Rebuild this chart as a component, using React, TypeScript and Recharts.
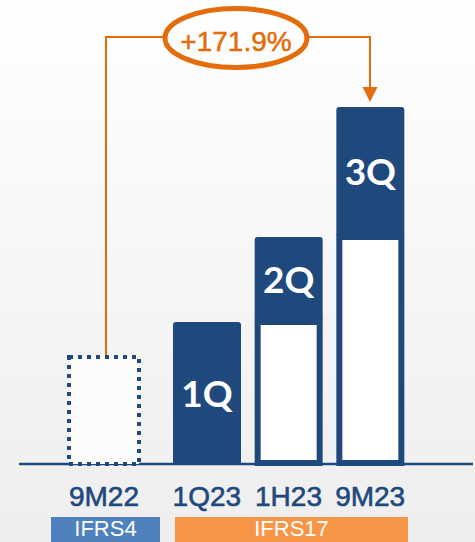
import { BarChart, Bar, XAxis, YAxis, LabelList } from "recharts";

const ifrs4Periods = ["9M22"];
const ifrs4Totals = [110];

const ifrs17Periods = ["1Q23", "1H23", "9M23"];
const priorCumulative = [0, 143, 228];
const quarterAdds = [143, 85, 130];
const quarterNames = ["1Q", "2Q", "3Q"];

const growthLabel = "+171.9%";
const regimeNames = ["IFRS4", "IFRS17"];

const NAVY = "#1f497d";
const ORANGE = "#e46c0a";
const SANS = "'Liberation Sans', Arial, sans-serif";

const ifrs4Data = ifrs4Periods.map((period, i) => ({
  period,
  total: ifrs4Totals[i],
}));

const ifrs17Data = ifrs17Periods.map((period, i) => ({
  period,
  prior: priorCumulative[i],
  quarter: quarterAdds[i],
  name: quarterNames[i],
}));

const maxTotal = Math.max(
  ...ifrs4Totals,
  ...ifrs17Data.map((d) => d.prior + d.quarter)
);

function PeriodTick(props: any) {
  const { x, y, payload } = props;
  return (
    <text
      x={x}
      y={y}
      dy={41}
      textAnchor="middle"
      fill={NAVY}
      stroke={NAVY}
      strokeWidth={0.6}
      fontFamily={SANS}
      fontSize={28}
    >
      {payload.value}
    </text>
  );
}

function DottedBox(props: any) {
  const { x, y, width, height } = props;
  if (!height) return null;
  return (
    <rect
      x={x + 2}
      y={y + 2}
      width={width - 4}
      height={height - 3}
      fill="#fbfbfb"
      stroke={NAVY}
      strokeWidth={4}
      strokeDasharray="4 5"
    />
  );
}

function OutlinedBox(props: any) {
  const { x, y, width, height } = props;
  if (!height) return null;
  return (
    <rect
      x={x + 3}
      y={y}
      width={width - 6}
      height={height - 2}
      fill="#ffffff"
      stroke={NAVY}
      strokeWidth={6}
    />
  );
}

function QuarterLabel(props: any) {
  const { x, y, width, height, value } = props;
  return (
    <text
      x={x + width / 2}
      y={y + height / 2}
      dy={13}
      textAnchor="middle"
      fill="#ffffff"
      fontFamily="Lato, 'Open Sans', sans-serif"
      fontWeight={700}
      fontSize={37}
    >
      {value}
    </text>
  );
}

const axisProps = {
  dataKey: "period",
  height: 77,
  axisLine: false,
  tickLine: false,
  tickSize: 0,
  tickMargin: 0,
  interval: 0 as const,
  tick: <PeriodTick />,
};

export default function App() {
  return (
    <div
      style={{
        position: "absolute",
        left: 0,
        top: 0,
        width: 475,
        height: 542,
        overflow: "hidden",
        background: "linear-gradient(#ffffff 0%, #f7f7f7 45%, #eeeeee 100%)",
      }}
    >
      <svg
        width={475}
        height={542}
        style={{ position: "absolute", left: 0, top: 0 }}
      >
        <line x1={19} x2={473} y1={464} y2={464} stroke={NAVY} strokeWidth={2.5} />

        <rect x={51} y={517} width={109} height={25} fill="#4f81bd" />
        <rect x={175} y={517} width={233} height={25} fill="#f79646" />
        <text x={105.5} y={536} textAnchor="middle" fill="#fff" fontSize={22}
          fontFamily={SANS}>
          {regimeNames[0]}
        </text>
        <text x={291.5} y={536} textAnchor="middle" fill="#fff" fontSize={22}
          fontFamily={SANS}>
          {regimeNames[1]}
        </text>

        <path d="M106 355 V37 H164" fill="none" stroke={ORANGE} strokeWidth={2} />
        <path d="M308 37 H370 V88" fill="none" stroke={ORANGE} strokeWidth={2} />
        <polygon points="362.5,87 377.5,87 370,102" fill={ORANGE} />
        <ellipse cx={236} cy={38} rx={71} ry={29.5} fill="none" stroke={ORANGE} strokeWidth={5} />
        <text x={236} y={51} textAnchor="middle" fill={ORANGE} stroke={ORANGE}
          strokeWidth={0.5} fontSize={28} fontFamily={SANS}>
          {growthLabel}
        </text>
      </svg>

      <div style={{ position: "absolute", left: 0, top: 0 }}>
        <BarChart
          width={475}
          height={542}
          data={ifrs4Data}
          margin={{ top: 107, right: 309, bottom: 0, left: 42 }}
          barSize={74}
        >
          <XAxis {...axisProps} />
          <YAxis hide domain={[0, maxTotal]} />
          <Bar dataKey="total" shape={<DottedBox />} isAnimationActive={false} />
        </BarChart>
      </div>

      <div style={{ position: "absolute", left: 0, top: 0 }}>
        <BarChart
          width={475}
          height={542}
          data={ifrs17Data}
          margin={{ top: 107, right: 64, bottom: 0, left: 166 }}
          barSize={68}
        >
          <XAxis {...axisProps} />
          <YAxis hide domain={[0, maxTotal]} />
          <Bar dataKey="prior" stackId="cum" shape={<OutlinedBox />} isAnimationActive={false} />
          <Bar dataKey="quarter" stackId="cum" fill={NAVY} radius={3} isAnimationActive={false}>
            <LabelList dataKey="name" content={<QuarterLabel />} />
          </Bar>
        </BarChart>
      </div>
    </div>
  );
}
